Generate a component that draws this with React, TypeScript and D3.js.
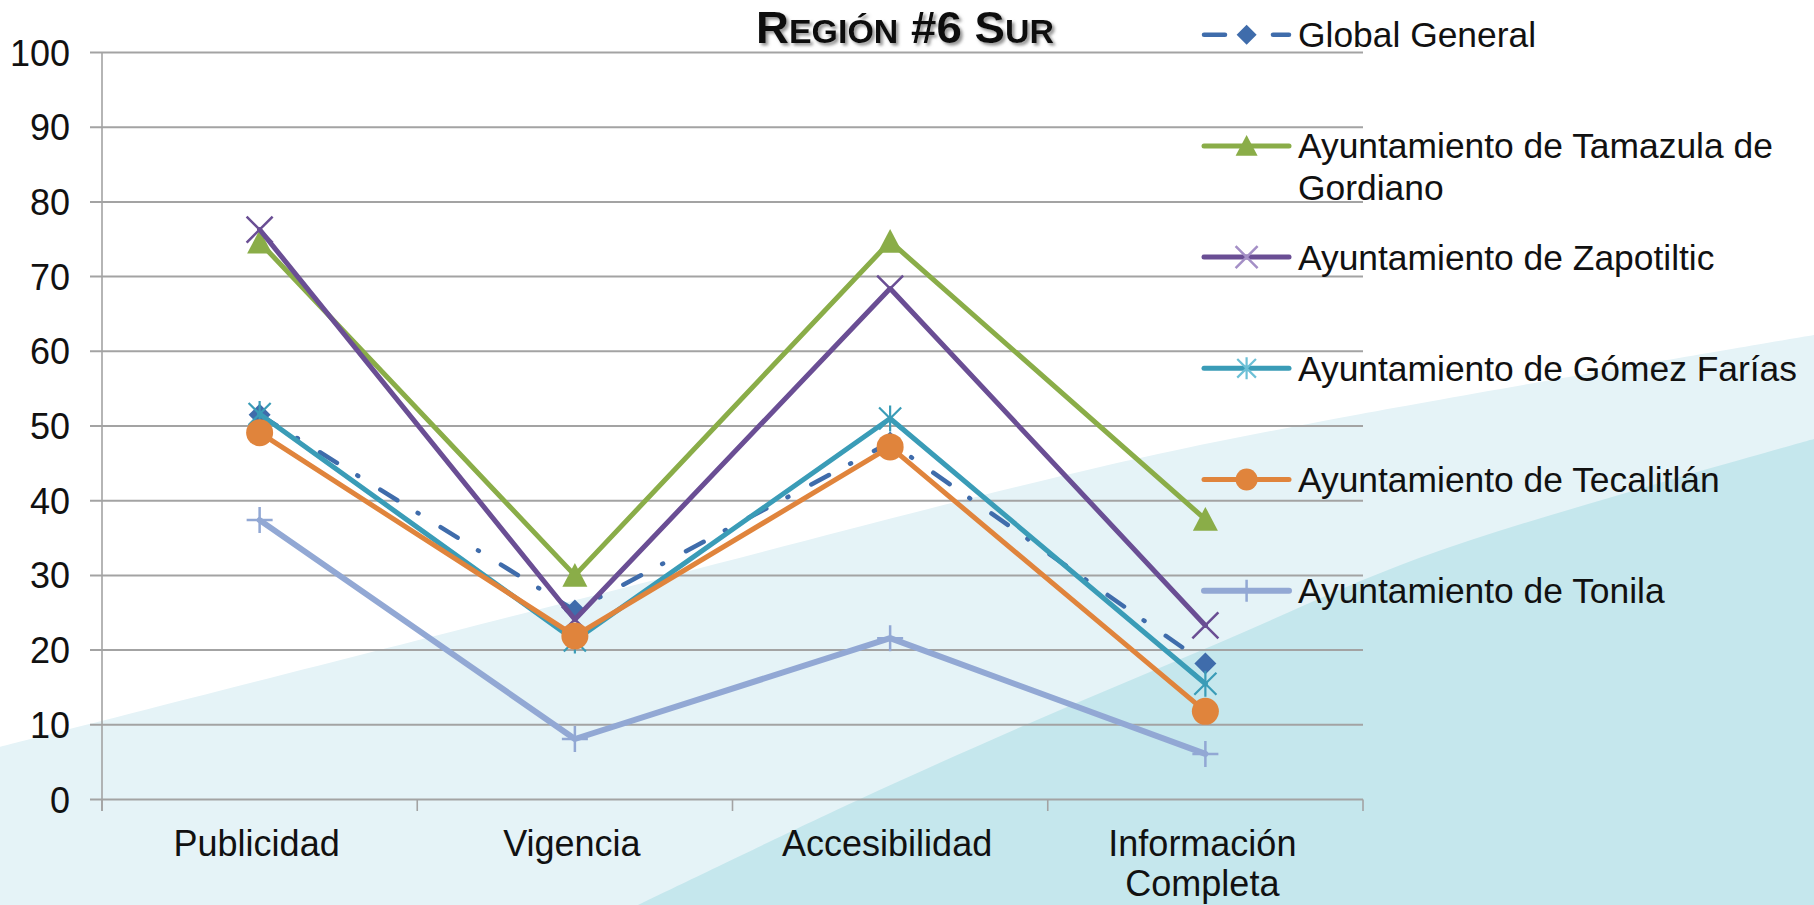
import React from 'react';
import * as d3 from 'd3';

const categories = ['Publicidad', 'Vigencia', 'Accesibilidad', 'Información Completa'];
const categoryLines = [['Publicidad'], ['Vigencia'], ['Accesibilidad'], ['Información', 'Completa']];

const seriesNames = [
  'Global General',
  'Ayuntamiento de Tamazula de Gordiano',
  'Ayuntamiento de Zapotiltic',
  'Ayuntamiento de Gómez Farías',
  'Ayuntamiento de Tecalitlán',
  'Ayuntamiento de Tonila',
];
const legendLines = [
  ['Global General'],
  ['Ayuntamiento de Tamazula de', 'Gordiano'],
  ['Ayuntamiento de Zapotiltic'],
  ['Ayuntamiento de Gómez Farías'],
  ['Ayuntamiento de Tecalitlán'],
  ['Ayuntamiento de Tonila'],
];

const globalGeneral = [51.5, 25.3, 47.8, 18.2];
const tamazula = [74.6, 30.0, 74.7, 37.5];
const zapotiltic = [76.3, 24.1, 68.4, 23.3];
const gomezFarias = [51.6, 21.3, 51.0, 15.5];
const tecalitlan = [49.1, 21.9, 47.2, 11.8];
const tonila = [37.4, 8.1, 21.6, 6.1];

const seriesValues = [globalGeneral, tamazula, zapotiltic, gomezFarias, tecalitlan, tonila];
const seriesColors = ['#3f6cab', '#8aad48', '#6a4e94', '#3a9cb7', '#e0843c', '#92a8d4'];
const legendMarkerColors = ['#3f6cab', '#8aad48', '#a48fc6', '#6cc0d6', '#e0843c', '#92a8d4'];
const seriesMarkers = ['diamond', 'triangle', 'x', 'asterisk', 'circle', 'plus'];

const yTicks = [0, 10, 20, 30, 40, 50, 60, 70, 80, 90, 100];
const titleParts = [
  { t: 'R', big: true },
  { t: 'EGIÓN', big: false },
  { t: ' #6 ', big: true },
  { t: 'S', big: true },
  { t: 'UR', big: false },
];

const W = 1814;
const H = 905;
const FONT = "'Liberation Sans', Arial, Helvetica, sans-serif";

function Marker({ type, cx, cy, s, color }: { type: string; cx: number; cy: number; s: number; color: string }) {
  const h = s / 2;
  switch (type) {
    case 'diamond':
      return <path d={`M${cx},${cy - h}L${cx + h},${cy}L${cx},${cy + h}L${cx - h},${cy}Z`} fill={color} />;
    case 'triangle':
      return <path d={`M${cx},${cy - h}L${cx + h},${cy + h * 0.9}L${cx - h},${cy + h * 0.9}Z`} fill={color} />;
    case 'circle':
      return <circle cx={cx} cy={cy} r={h} fill={color} />;
    case 'x':
      return (
        <path d={`M${cx - h},${cy - h}L${cx + h},${cy + h}M${cx - h},${cy + h}L${cx + h},${cy - h}`} stroke={color} strokeWidth={2.5} fill="none" />
      );
    case 'asterisk':
      return (
        <path
          d={`M${cx - h * 0.85},${cy - h * 0.85}L${cx + h * 0.85},${cy + h * 0.85}M${cx - h * 0.85},${cy + h * 0.85}L${cx + h * 0.85},${cy - h * 0.85}M${cx},${cy - h}L${cx},${cy + h}`}
          stroke={color}
          strokeWidth={2.2}
          fill="none"
        />
      );
    case 'plus':
      return <path d={`M${cx - h},${cy}L${cx + h},${cy}M${cx},${cy - h}L${cx},${cy + h}`} stroke={color} strokeWidth={2.5} fill="none" />;
    default:
      return null;
  }
}

export default function App() {
  const x = d3.scaleBand<string>().domain(categories).range([102, 1363]).paddingInner(0).paddingOuter(0);
  const y = d3.scaleLinear().domain([0, 100]).range([799.5, 52.5]);
  const cx = (c: string) => (x(c) as number) + x.bandwidth() / 2;

  const line = d3
    .line<number>()
    .x((_, i) => cx(categories[i]))
    .y((v) => y(v));

  const bgCurve = d3.line<[number, number]>().curve(d3.curveCatmullRom.alpha(0.5));
  const lightPts: [number, number][] = [
    [0, 747],
    [576, 600],
    [1100, 467],
    [1350, 416],
    [1814, 335],
  ];
  const darkPts: [number, number][] = [
    [638, 905],
    [858, 800],
    [1030, 723],
    [1214, 645],
    [1419, 558],
    [1646, 487],
    [1814, 439],
  ];
  const lightPath = bgCurve(lightPts) + `L${W},${H}L0,${H}Z`;
  const darkPath = bgCurve(darkPts) + `L${W},${H}Z`;

  const boundaries = [...categories.map((c) => x(c) as number), 1363];

  const legendX0 = 1202;
  const legendX1 = 1291;
  const legendMid = 1246.6;
  const legendTextX = 1298;
  const legendRowY = (i: number) => 34.7 + i * 111.2;

  return (
    <svg width={W} height={H} style={{ position: 'fixed', left: 0, top: 0, background: '#ffffff' }} fontFamily={FONT}>
      <defs>
        <filter id="shadow" x="-10%" y="-30%" width="130%" height="170%">
          <feDropShadow dx="2.5" dy="2.5" stdDeviation="1.6" floodColor="#7a7a7a" floodOpacity="0.8" />
        </filter>
      </defs>
      <rect x={0} y={0} width={W} height={H} fill="#ffffff" />
      <path d={lightPath} fill="#e5f3f7" />
      <path d={darkPath} fill="#c5e7ed" />

      {/* gridlines */}
      {yTicks.map((t) => (
        <line key={t} x1={90} x2={1363} y1={y(t)} y2={y(t)} stroke="#a3a3a3" strokeWidth={2} />
      ))}
      {/* y axis */}
      <line x1={102} x2={102} y1={y(100)} y2={811} stroke="#a3a3a3" strokeWidth={1.6} />
      {boundaries.map((b, i) => (
        <line key={i} x1={b} x2={b} y1={y(0)} y2={811} stroke="#a3a3a3" strokeWidth={1.6} />
      ))}
      {yTicks.map((t) => (
        <text key={t} x={70} y={y(t) + 13} textAnchor="end" fontSize={36} fill="#111">
          {t}
        </text>
      ))}
      {categoryLines.map((lines, i) => (
        <text key={i} textAnchor="middle" fontSize={36} fill="#111">
          {lines.map((l, j) => (
            <tspan key={j} x={cx(categories[i]) - 3} y={856 + j * 40}>
              {l}
            </tspan>
          ))}
        </text>
      ))}

      {/* series */}
      {seriesValues.map((vals, si) => (
        <g key={si}>
          <path
            d={line(vals) as string}
            fill="none"
            stroke={seriesColors[si]}
            strokeWidth={si === 0 ? 4.5 : si === 5 ? 6 : 5}
            strokeLinejoin="round"
            strokeLinecap="round"
            strokeDasharray={si === 0 ? '20 24 1 26' : undefined}
          />
          {vals.map((v, i) => (
            <Marker
              key={i}
              type={seriesMarkers[si]}
              cx={cx(categories[i])}
              cy={y(v)}
              s={si === 4 ? 27 : si === 1 ? 25 : si === 0 ? 22 : 26}
              color={seriesColors[si]}
            />
          ))}
        </g>
      ))}

      {/* title */}
      <text x={756} y={42.5} fontWeight="bold" fill="#111" filter="url(#shadow)" textLength={298} lengthAdjust="spacingAndGlyphs" style={{ whiteSpace: 'pre' }}>
        {titleParts.map((p, i) => (
          <tspan key={i} fontSize={p.big ? 45 : 33.5}>
            {p.t}
          </tspan>
        ))}
      </text>

      {/* legend */}
      {seriesNames.map((name, i) => {
        const ly = legendRowY(i);
        return (
          <g key={name}>
            {i === 0 ? (
              <g stroke={seriesColors[0]} strokeWidth={4.5} strokeLinecap="round">
                <line x1={legendX0 + 2} x2={legendX0 + 23} y1={ly} y2={ly} />
                <line x1={legendX1 - 18} x2={legendX1 - 2} y1={ly} y2={ly} />
              </g>
            ) : (
              <line x1={legendX0 + 2} x2={legendX1 - 2} y1={ly} y2={ly} stroke={seriesColors[i]} strokeWidth={i === 5 ? 6 : 5} strokeLinecap="round" />
            )}
            <Marker type={seriesMarkers[i]} cx={legendMid} cy={ly} s={i === 0 ? 20 : 22} color={legendMarkerColors[i]} />
            <text fontSize={35.4} fill="#111">
              {legendLines[i].map((l, j) => (
                <tspan key={j} x={legendTextX} y={ly + 12.5 + j * 41.5}>
                  {l}
                </tspan>
              ))}
            </text>
          </g>
        );
      })}
    </svg>
  );
}
